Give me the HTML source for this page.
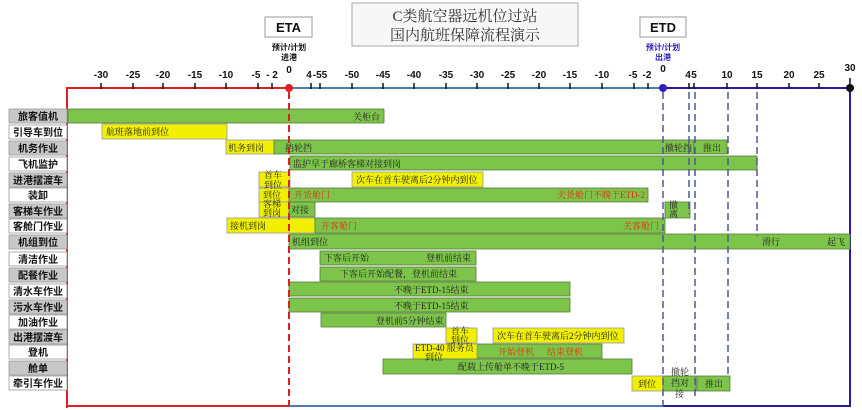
<!DOCTYPE html>
<html><head><meta charset="utf-8"><style>
body{margin:0;background:#fff}
svg{display:block}
.t{font-family:"Liberation Sans","Noto Sans CJK SC",sans-serif;font-weight:bold;font-size:10px;text-anchor:middle;fill:#111}
.lb{font-family:"Liberation Sans","Noto Sans CJK SC",sans-serif;font-weight:bold;font-size:10px;text-anchor:middle;fill:#111}
.b{font-family:"Liberation Serif","Noto Serif CJK SC",serif;font-size:9px;fill:#222}
.r{fill:#e03010}
</style></head><body>
<svg width="862" height="410" viewBox="0 0 862 410" xmlns="http://www.w3.org/2000/svg">
<!-- title -->
<rect x="352" y="3" width="226" height="43" fill="#f7f7f7" stroke="#aaa"/>
<text x="465" y="21" font-family="Liberation Serif,Noto Serif CJK SC,serif" font-size="15" text-anchor="middle" fill="#333">C类航空器远机位过站</text>
<text x="465" y="40" font-family="Liberation Serif,Noto Serif CJK SC,serif" font-size="15" text-anchor="middle" fill="#333">国内航班保障流程演示</text>
<rect x="265" y="17" width="47" height="20" fill="#fff" stroke="#999"/>
<text x="288.5" y="32" class="t" style="font-size:13px">ETA</text>
<rect x="640" y="17" width="46" height="20" fill="#fff" stroke="#999"/>
<text x="663" y="32" class="t" style="font-size:13px">ETD</text>
<text x="289" y="50" class="t" style="font-size:8px">预计/计划</text>
<text x="289" y="60" class="t" style="font-size:8px">进港</text>
<text x="663" y="50" class="t" style="font-size:8px;fill:#3020c0">预计/计划</text>
<text x="663" y="60" class="t" style="font-size:8px;fill:#3020c0">出港</text>
<!-- frame -->
<polyline points="67,408 67,88 289,88" fill="none" stroke="#e02020" stroke-width="2"/>
<line x1="67" y1="406" x2="289" y2="406" stroke="#e02020" stroke-width="2"/>
<line x1="289" y1="88" x2="663" y2="88" stroke="#4a7db0" stroke-width="2"/>
<line x1="289" y1="406" x2="663" y2="406" stroke="#4a7db0" stroke-width="2"/>
<line x1="663" y1="88" x2="850" y2="88" stroke="#2a1aa0" stroke-width="2"/>
<polyline points="663,406 850,406 850,88" fill="none" stroke="#2a1aa0" stroke-width="2"/>
<!-- ticks -->
<g stroke="#111" stroke-width="1.5">
<line x1="101" y1="83" x2="101" y2="89"/><line x1="133" y1="83" x2="133" y2="89"/><line x1="163" y1="83" x2="163" y2="89"/><line x1="195" y1="83" x2="195" y2="89"/><line x1="226" y1="83" x2="226" y2="89"/><line x1="258" y1="83" x2="258" y2="89"/><line x1="272" y1="83" x2="272" y2="89"/>
<line x1="311" y1="83" x2="311" y2="89"/><line x1="320" y1="83" x2="320" y2="89"/><line x1="352" y1="83" x2="352" y2="89"/><line x1="383" y1="83" x2="383" y2="89"/><line x1="414" y1="83" x2="414" y2="89"/><line x1="446" y1="83" x2="446" y2="89"/><line x1="477" y1="83" x2="477" y2="89"/><line x1="508" y1="83" x2="508" y2="89"/><line x1="539" y1="83" x2="539" y2="89"/><line x1="570" y1="83" x2="570" y2="89"/><line x1="602" y1="83" x2="602" y2="89"/><line x1="634" y1="83" x2="634" y2="89"/><line x1="648" y1="83" x2="648" y2="89"/>
<line x1="689" y1="83" x2="689" y2="89"/><line x1="694" y1="83" x2="694" y2="89"/><line x1="727" y1="83" x2="727" y2="89"/><line x1="757" y1="83" x2="757" y2="89"/><line x1="789" y1="83" x2="789" y2="89"/><line x1="819" y1="83" x2="819" y2="89"/><line x1="850" y1="78" x2="850" y2="89"/>
</g>
<g class="t">
<text x="101" y="78" class="t">-30</text><text x="133" y="78" class="t">-25</text><text x="163" y="78" class="t">-20</text><text x="195" y="78" class="t">-15</text><text x="226" y="78" class="t">-10</text><text x="256" y="78" class="t">-5</text><text x="272" y="78" class="t">- 2</text><text x="289" y="73" class="t">0</text>
<text x="309" y="78" class="t">4</text><text x="320" y="78" class="t">-55</text><text x="352" y="78" class="t">-50</text><text x="383" y="78" class="t">-45</text><text x="414" y="78" class="t">-40</text><text x="446" y="78" class="t">-35</text><text x="477" y="78" class="t">-30</text><text x="508" y="78" class="t">-25</text><text x="539" y="78" class="t">-20</text><text x="570" y="78" class="t">-15</text><text x="602" y="78" class="t">-10</text><text x="633" y="78" class="t">-5</text><text x="647" y="78" class="t">-2</text><text x="663" y="72" class="t">0</text>
<text x="688" y="78" class="t">4</text><text x="694" y="78" class="t">5</text><text x="727" y="78" class="t">10</text><text x="757" y="78" class="t">15</text><text x="789" y="78" class="t">20</text><text x="819" y="78" class="t">25</text><text x="850" y="71" class="t">30</text>
</g>
<circle cx="289" cy="88" r="4" fill="#e02020"/>
<circle cx="663" cy="88" r="4" fill="#3020c0"/>
<circle cx="850" cy="88" r="4" fill="#111"/>
<!-- bars -->
<g stroke="#5a7a3a" stroke-width="0.8">
<rect x="68" y="109" width="316" height="14" fill="#7dc44a"/>
<rect x="102" y="124" width="125" height="15" fill="#f0f000" stroke="#999"/>
<rect x="226" y="140" width="48" height="14" fill="#f0f000" stroke="#999"/>
<rect x="274" y="140" width="420" height="14" fill="#7dc44a"/>
<rect x="694" y="140" width="33" height="14" fill="#7dc44a"/>
<rect x="290" y="156" width="467" height="14" fill="#7dc44a"/>
<rect x="259" y="172" width="31" height="15" fill="#f0f000" stroke="#999"/>
<rect x="352" y="172" width="131" height="15" fill="#f0f000" stroke="#999"/>
<rect x="259" y="188" width="30" height="14" fill="#f0f000" stroke="#999"/>
<rect x="289" y="188" width="359" height="14" fill="#7dc44a"/>
<rect x="259" y="202" width="30" height="15" fill="#f0f000" stroke="#999"/>
<rect x="289" y="202" width="26" height="15" fill="#7dc44a"/>
<rect x="665" y="202" width="25" height="16" fill="#7dc44a"/>
<rect x="227" y="218" width="88" height="15" fill="#f0f000" stroke="#999"/>
<rect x="315" y="218" width="350" height="15" fill="#7dc44a"/>
<rect x="289" y="234" width="561" height="15" fill="#7dc44a"/>
<rect x="320" y="251" width="156" height="14" fill="#7dc44a"/>
<rect x="320" y="267" width="156" height="14" fill="#7dc44a"/>
<rect x="289" y="282" width="281" height="14" fill="#7dc44a"/>
<rect x="289" y="298" width="281" height="14" fill="#7dc44a"/>
<rect x="321" y="313" width="125" height="14" fill="#7dc44a"/>
<rect x="446" y="328" width="31" height="15" fill="#f0f000" stroke="#999"/>
<rect x="493" y="328" width="131" height="15" fill="#f0f000" stroke="#999"/>
<rect x="477" y="344" width="125" height="14" fill="#7dc44a"/>
<rect x="413" y="344" width="64" height="15" fill="#f0f000" stroke="#999"/>
<rect x="383" y="359" width="249" height="15" fill="#7dc44a"/>
<rect x="632" y="376" width="31" height="15" fill="#f0f000" stroke="#999"/>
<rect x="663" y="376" width="33" height="15" fill="#7dc44a"/>
<rect x="697" y="376" width="33" height="15" fill="#7dc44a"/>
</g>
<!-- dashed verticals -->
<line x1="289" y1="92" x2="289" y2="406" stroke="#e02020" stroke-width="2" stroke-dasharray="7,4"/>
<g stroke="#4a5a9a" stroke-width="1.5" stroke-dasharray="7,4">
<line x1="663" y1="92" x2="663" y2="406"/>
<line x1="689" y1="92" x2="689" y2="214"/>
<line x1="695" y1="92" x2="695" y2="396"/>
<line x1="728" y1="92" x2="728" y2="378"/>
<line x1="757" y1="92" x2="757" y2="236"/>
</g>
<!-- bar text -->
<g class="b">
<text x="353" y="120">关柜台</text>
<text x="106" y="135">航班落地前到位</text>
<text x="228" y="151">机务到岗</text>
<text x="285" y="151">挡轮挡</text>
<text x="665" y="151">撤轮挡</text>
<text x="703" y="151">推出</text>
<text x="293" y="167">监护早于廊桥客梯对接到岗</text>
<text x="264" y="178">首车</text><text x="264" y="188">到位</text>
<text x="356" y="183">次车在首车驶离后2分钟内到位</text>
<text x="263" y="198">到位</text>
<text x="294" y="198" class="r">开货舱门</text>
<text x="557" y="198" class="r">关货舱门不晚于ETD-2</text>
<text x="263" y="207">客梯</text><text x="263" y="216">到岗</text>
<text x="291" y="213">对接</text>
<text x="669" y="208">撤</text><text x="669" y="217">离</text>
<text x="230" y="229">接机到岗</text>
<text x="321" y="229" class="r">开客舱门</text>
<text x="623" y="229" class="r">关客舱门</text>
<text x="292" y="245">机组到位</text>
<text x="762" y="245">滑行</text><text x="827" y="245">起飞</text>
<text x="324" y="261">下客后开始</text><text x="426" y="261">登机前结束</text>
<text x="340" y="277">下客后开始配餐，登机前结束</text>
<text x="394" y="293">不晚于ETD-15结束</text>
<text x="394" y="309">不晚于ETD-15结束</text>
<text x="376" y="324">登机前5分钟结束</text>
<text x="451" y="334">首车</text><text x="451" y="343">到位</text>
<text x="497" y="339">次车在首车驶离后2分钟内到位</text>
<text x="415" y="351">ETD-40 服务员</text><text x="425" y="360">到位</text>
<text x="498" y="355" class="r">开始登机</text><text x="547" y="355" class="r">结束登机</text>
<text x="458" y="370">配载上传舱单不晚于ETD-5</text>
<text x="638" y="387">到位</text>
<text x="671" y="375">撤轮</text><text x="671" y="386">挡对</text><text x="675" y="397">接</text>
<text x="705" y="387">推出</text>
</g>
<!-- row labels -->
<g stroke="#999" stroke-width="0.8">
<rect x="9" y="109" width="58" height="14" fill="#c8c8c8"/>
<rect x="9" y="125" width="58" height="14" fill="#fff"/>
<rect x="9" y="141" width="58" height="14" fill="#c8c8c8"/>
<rect x="9" y="157" width="58" height="14" fill="#fff"/>
<rect x="9" y="173" width="58" height="14" fill="#c8c8c8"/>
<rect x="9" y="188" width="58" height="14" fill="#fff"/>
<rect x="9" y="204" width="58" height="14" fill="#c8c8c8"/>
<rect x="9" y="219" width="58" height="14" fill="#fff"/>
<rect x="9" y="235" width="58" height="14" fill="#c8c8c8"/>
<rect x="9" y="252" width="58" height="14" fill="#fff"/>
<rect x="9" y="268" width="58" height="14" fill="#c8c8c8"/>
<rect x="9" y="284" width="58" height="14" fill="#fff"/>
<rect x="9" y="300" width="58" height="14" fill="#c8c8c8"/>
<rect x="9" y="315" width="58" height="14" fill="#fff"/>
<rect x="9" y="330" width="58" height="14" fill="#c8c8c8"/>
<rect x="9" y="345" width="58" height="14" fill="#fff"/>
<rect x="9" y="361" width="58" height="14" fill="#c8c8c8"/>
<rect x="9" y="376" width="58" height="14" fill="#fff"/>
</g>
<g class="lb">
<text x="38" y="120" class="lb">旅客值机</text>
<text x="38" y="136" class="lb">引导车到位</text>
<text x="38" y="152" class="lb">机务作业</text>
<text x="38" y="168" class="lb">飞机监护</text>
<text x="38" y="184" class="lb">进港摆渡车</text>
<text x="38" y="199" class="lb">装卸</text>
<text x="38" y="215" class="lb">客梯车作业</text>
<text x="38" y="230" class="lb">客舱门作业</text>
<text x="38" y="246" class="lb">机组到位</text>
<text x="38" y="263" class="lb">清洁作业</text>
<text x="38" y="279" class="lb">配餐作业</text>
<text x="38" y="295" class="lb">清水车作业</text>
<text x="38" y="311" class="lb">污水车作业</text>
<text x="38" y="326" class="lb">加油作业</text>
<text x="38" y="341" class="lb">出港摆渡车</text>
<text x="38" y="356" class="lb">登机</text>
<text x="38" y="372" class="lb">舱单</text>
<text x="38" y="387" class="lb">牵引车作业</text>
</g>
</svg>
</body></html>
